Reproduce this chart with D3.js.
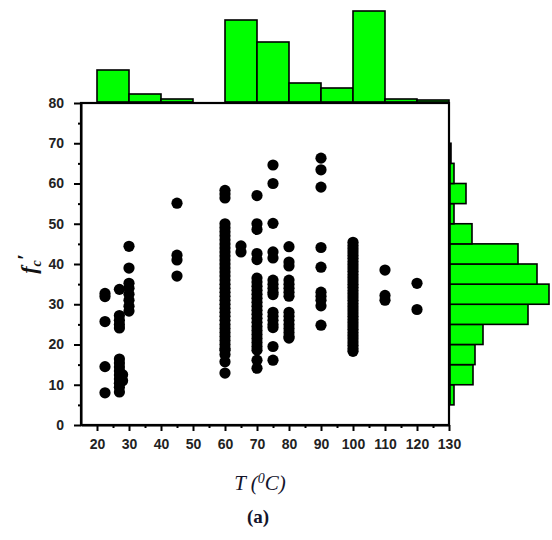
<!DOCTYPE html>
<html>
<head>
<meta charset="utf-8">
<script src="https://cdn.jsdelivr.net/npm/d3@7/dist/d3.min.js"></script>
<style>
  body { margin: 0; background: #fff; }
  .tick text { font-family: "Liberation Sans", Arial, sans-serif; font-weight: bold; font-size: 14px; fill: #222; }
</style>
</head>
<body>
<div id="chart"></div>
<script>
// Temperature groups (x) and measured strengths (y) for each group
const temps = [22.5, 27, 28, 30, 45, 60, 65, 70, 75, 80, 90, 100, 110, 120];
const fc22 = [32.7, 31.9, 25.7, 14.5, 8];
const fc27 = [33.7, 27.2, 26, 25, 24.1, 16.4, 15.4, 14.4, 13.4, 12.4, 11.4, 10.4, 9.4, 8.2];
const fc28 = [12.5, 11];
const fc30 = [44.4, 39, 35.2, 34, 32.5, 31, 29.5, 28.3];
const fc45 = [55.1, 42.2, 41, 37];
const fc60 = [58.3, 57.4, 56.4, 50, 49, 48, 47, 46, 45, 44, 43, 42, 41, 40, 39, 38, 37, 36, 35, 34, 33,
  32, 31, 30, 29, 28, 27, 26, 25, 24, 23, 22, 21, 20, 19, 18.6, 17.5, 15.7, 12.9];
const fc65 = [44.5, 43];
const fc70 = [57, 50, 48.6, 42.6, 41.1, 36.5, 35.5, 34.5, 33.5, 32.5, 31.5, 30.5, 29.5, 28.5, 27.5,
  26.5, 25.5, 24.5, 23.5, 22.5, 21.5, 20.5, 19.5, 18.6, 16.1, 14.1];
const fc75 = [64.6, 60, 50.1, 43, 41.5, 36, 35, 34, 33, 32.4, 28, 27, 26, 25, 24.2, 19.5, 16.1];
const fc80 = [44.3, 40.5, 39.5, 36, 35, 34, 33, 32, 28, 27, 26, 25, 24, 23, 22, 21.6];
const fc90 = [66.3, 63.4, 59.1, 44.1, 39.2, 33, 32, 31, 29.6, 24.8];
const fc100 = [45.4, 44.6, 43.8, 43, 42.2, 41.4, 40.6, 39.8, 39, 38.2, 37.4, 36.6, 35.8, 35, 34.2, 33.4,
  32.6, 31.8, 31, 30.2, 29.4, 28.6, 27.8, 27, 26.2, 25.4, 24.6, 23.8, 23, 22.2, 21.4, 20.6, 19.8, 19, 18.3];
const fc110 = [38.5, 32.2, 31];
const fc120 = [35.2, 28.7];
const fcGroups = [fc22, fc27, fc28, fc30, fc45, fc60, fc65, fc70, fc75, fc80, fc90, fc100, fc110, fc120];

// Marginal histograms
const tBinStarts = [20, 30, 40, 50, 60, 70, 80, 90, 100, 110, 120];  // width 10
const tCounts = [32, 8, 3, 0, 82, 60, 19, 14, 91, 3, 2];
const fcBinStarts = [0, 5, 10, 15, 20, 25, 30, 35, 40, 45, 50, 55, 60, 65];  // width 5
const fcCounts = [0, 4, 23, 25, 33, 78, 99, 87, 68, 22, 4, 16, 4, 1];

const xTicks = [20, 30, 40, 50, 60, 70, 80, 90, 100, 110, 120, 130];
const xMinor = [25, 35, 45, 55, 65, 75, 85, 95, 105, 115, 125];
const yTicks = [0, 10, 20, 30, 40, 50, 60, 70, 80];
const yMinor = [5, 15, 25, 35, 45, 55, 65, 75];

var width = 552, height = 540;
var plotLeft = 81, plotRight = 449, plotTop = 103, plotBottom = 425;

var svg = d3.select('#chart').append('svg')
  .attr('width', width).attr('height', height)
  .style('background', '#fff');

var x = d3.scaleLinear().domain([15, 130]).range([plotLeft, plotRight]);
var y = d3.scaleLinear().domain([0, 80]).range([plotBottom, plotTop]);

// top histogram
var hTop = d3.scaleLinear().domain([0, 91]).range([0, 91]);
svg.append('g').selectAll('rect')
  .data(tBinStarts.map(function(d, i) { return {x0: d, c: tCounts[i]}; }).filter(function(d) { return d.c > 0; }))
  .enter().append('rect')
  .attr('x', function(d) { return x(d.x0); })
  .attr('width', function(d) { return x(d.x0 + 10) - x(d.x0); })
  .attr('y', function(d) { return plotTop - 1 - hTop(d.c); })
  .attr('height', function(d) { return hTop(d.c); })
  .attr('fill', '#00ff00').attr('stroke', '#000').attr('stroke-width', 1.6);

// right histogram
var hRight = d3.scaleLinear().domain([0, 99]).range([0, 99]);
svg.append('g').selectAll('rect')
  .data(fcBinStarts.map(function(d, i) { return {y0: d, c: fcCounts[i]}; }).filter(function(d) { return d.c > 0; }))
  .enter().append('rect')
  .attr('x', plotRight + 1)
  .attr('width', function(d) { return hRight(d.c); })
  .attr('y', function(d) { return y(d.y0 + 5); })
  .attr('height', function(d) { return y(d.y0) - y(d.y0 + 5); })
  .attr('fill', '#00ff00').attr('stroke', '#000').attr('stroke-width', 1.6);

// scatter points
var pts = [];
temps.forEach(function(t, i) {
  fcGroups[i].forEach(function(v) { pts.push({t: t, v: v}); });
});
svg.append('g').selectAll('circle')
  .data(pts).enter().append('circle')
  .attr('cx', function(d) { return x(d.t); })
  .attr('cy', function(d) { return y(d.v); })
  .attr('r', 5.6)
  .attr('fill', '#000');

// axes
svg.append('g').attr('transform', 'translate(0,' + plotBottom + ')')
  .call(d3.axisBottom(x).tickValues(xTicks).tickSize(6).tickPadding(8).tickSizeOuter(0));
svg.append('g').attr('transform', 'translate(0,' + plotBottom + ')')
  .call(d3.axisBottom(x).tickValues(xMinor).tickSize(3).tickFormat('').tickSizeOuter(0))
  .select('.domain').remove();
svg.append('g').attr('transform', 'translate(' + plotLeft + ',0)')
  .call(d3.axisLeft(y).tickValues(yTicks).tickSize(7).tickPadding(10).tickSizeOuter(0));
svg.append('g').attr('transform', 'translate(' + plotLeft + ',0)')
  .call(d3.axisLeft(y).tickValues(yMinor).tickSize(3).tickFormat('').tickSizeOuter(0))
  .select('.domain').remove();
svg.selectAll('.tick line').attr('stroke', '#000').attr('stroke-width', 2);
svg.selectAll('.domain').attr('stroke-width', 2);

// frame
svg.append('rect')
  .attr('x', plotLeft).attr('y', plotTop)
  .attr('width', plotRight - plotLeft).attr('height', plotBottom - plotTop)
  .attr('fill', 'none').attr('stroke', '#000').attr('stroke-width', 2.2);

// axis titles
var yt = svg.append('text')
  .attr('transform', 'translate(36,' + (plotBottom + plotTop) / 2 + ') rotate(-90)')
  .attr('text-anchor', 'middle')
  .style('font-family', '"Liberation Serif", "Times New Roman", serif')
  .style('font-weight', 'bold').style('font-style', 'italic')
  .style('font-size', '22px').attr('fill', '#111');
yt.append('tspan').text('f');
yt.append('tspan').attr('dy', 5).style('font-size', '14px').text('c');
yt.append('tspan').attr('dy', -9).text('\u2032');

var xt = svg.append('text')
  .attr('x', 260).attr('y', 490)
  .attr('text-anchor', 'middle')
  .style('font-family', '"Liberation Serif", "Times New Roman", serif')
  .style('font-style', 'italic').style('font-size', '21px').attr('fill', '#14142a');
xt.append('tspan').text('T (');
xt.append('tspan').attr('dy', -7).style('font-size', '14px').text('0');
xt.append('tspan').attr('dy', 7).text('C)');

svg.append('text')
  .attr('x', 258).attr('y', 523)
  .attr('text-anchor', 'middle')
  .style('font-family', '"Liberation Serif", "Times New Roman", serif')
  .style('font-weight', 'bold').style('font-size', '19px').attr('fill', '#14142a')
  .text('(a)');
</script>
</body>
</html>
